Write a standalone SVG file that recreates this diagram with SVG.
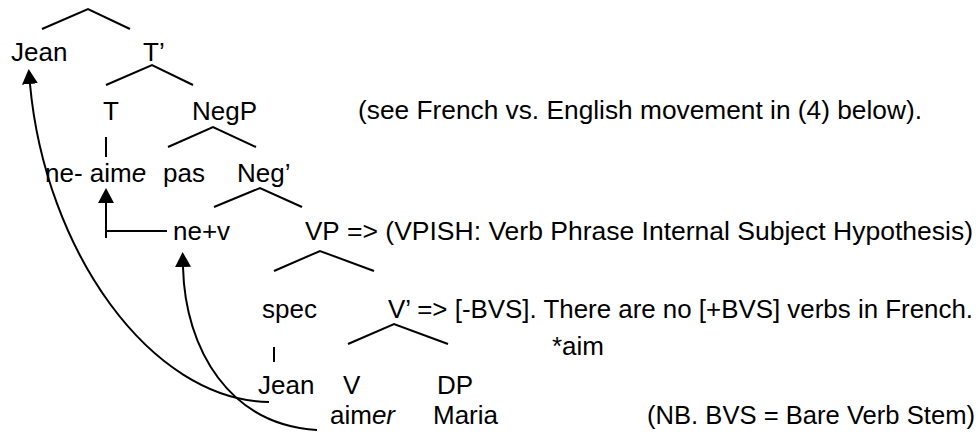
<svg xmlns="http://www.w3.org/2000/svg" width="979" height="440" viewBox="0 0 979 440">
<style>
text{font-family:"Liberation Sans",Arial,sans-serif;font-size:26px;fill:#000}
.it{font-style:italic}
.br{fill:none;stroke:#000;stroke-width:2}
.mv{fill:none;stroke:#000;stroke-width:2}
</style>
<defs>
<marker id="ah" markerUnits="userSpaceOnUse" markerWidth="15" markerHeight="16" viewBox="0 0 15 16" refX="0" refY="8" orient="auto">
<path d="M0,0 L15,8 L0,16 Z" fill="#000"/>
</marker>
</defs>
<rect width="979" height="440" fill="#fff"/>
<g id="branches">
<polyline class="br" points="42,29 88,9 130,29"/>
<polyline class="br" points="106,85 152,65 193,85"/>
<polyline class="br" points="168,147 213,127 256,147"/>
<polyline class="br" points="214,207 260,188 302,207"/>
<polyline class="br" points="274,271 320,251 374,271"/>
<polyline class="br" points="348,344 394,324 448,344"/>
<line class="br" x1="106" y1="137" x2="106" y2="157"/>
<line class="br" x1="274" y1="347" x2="274" y2="362"/>
</g>
<g id="connectors">
<path class="mv" d="M167,231 H106"/>
<path class="mv" d="M106,238 V203" marker-end="url(#ah)"/>
<path class="mv" d="M269,402 C150,400 45,250 30,84" marker-end="url(#ah)"/>
<path class="mv" d="M317,430 C230,425 185,350 183,267" marker-end="url(#ah)"/>
</g>
<g id="n-jean-top"><text x="11" y="61">Jean</text></g>
<g id="n-tbar"><text x="143" y="61">T’</text></g>
<g id="n-t"><text x="103" y="120">T</text></g>
<g id="n-negp"><text x="192" y="120">NegP</text></g>
<g id="note-see"><text x="358" y="119" textLength="564" lengthAdjust="spacingAndGlyphs">(see French vs. English movement in (4) below).</text></g>
<g id="n-neaime"><text x="45" y="182">ne- aim<tspan class="it">e</tspan></text></g>
<g id="n-pas"><text x="163" y="182">pas</text></g>
<g id="n-negbar"><text x="237" y="182">Neg’</text></g>
<g id="n-nev"><text x="173" y="240">ne+v</text></g>
<g id="n-vp"><text x="305" y="240">VP</text></g>
<g id="note-vpish"><text x="347" y="240" textLength="626" lengthAdjust="spacingAndGlyphs">=&gt; (VPISH: Verb Phrase Internal Subject Hypothesis)</text></g>
<g id="n-spec"><text x="262" y="318">spec</text></g>
<g id="n-vbar"><text x="388" y="318" textLength="585" lengthAdjust="spacingAndGlyphs">V’ =&gt; [-BVS]. There are no [+BVS] verbs in French.</text></g>
<g id="note-aim"><text x="552" y="355">*aim</text></g>
<g id="n-jean-low"><text x="258" y="394">Jean</text></g>
<g id="n-v"><text x="343" y="394">V</text></g>
<g id="n-dp"><text x="437" y="394">DP</text></g>
<g id="n-aimer"><text x="330" y="424">aim<tspan class="it">er</tspan></text></g>
<g id="n-maria"><text x="433" y="424">Maria</text></g>
<g id="note-nb"><text x="647" y="424" textLength="328" lengthAdjust="spacingAndGlyphs">(NB. BVS = Bare Verb Stem)</text></g>
</svg>
